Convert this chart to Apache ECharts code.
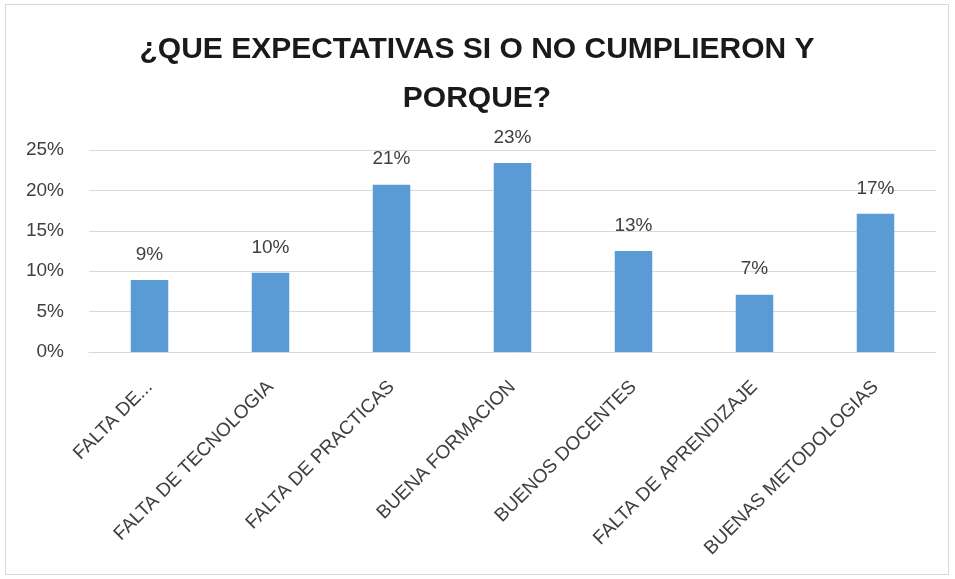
<!DOCTYPE html>
<html>
<head>
<meta charset="utf-8">
<script src="https://cdn.jsdelivr.net/npm/echarts@6/dist/echarts.min.js"></script>
<style>
    html, body { margin: 0; padding: 0; background: #fff; }
    #chart { position: absolute; left: 5px; top: 4px; width: 944px; height: 571px; border: 1px solid #d9d9d9; box-sizing: border-box; }
</style>
</head>
<body>
<div id="chart"></div>
<script>
// datos
var categorias = ['FALTA DE...', 'FALTA DE TECNOLOGIA', 'FALTA DE PRACTICAS', 'BUENA FORMACION', 'BUENOS DOCENTES', 'FALTA DE APRENDIZAJE', 'BUENAS METODOLOGIAS']
var porcentajes = [8.9, 9.8, 20.7, 23.4, 12.5, 7.1, 17.1]
var ticksY = [0, 5, 10, 15, 20, 25]

var textColor = '#404040'
var myChart = echarts.init(document.getElementById('chart'))
myChart.setOption({
    animation: false,
    title: {
        text: '¿QUE EXPECTATIVAS SI O NO CUMPLIERON Y\nPORQUE?',
        left: 'center',
        top: 15,
        textStyle: {
            fontFamily: 'Liberation Sans',
            fontWeight: 'bold',
            fontSize: 30,
            lineHeight: 49,
            color: '#1a1a1a'
        }
    },
    grid: {
        left: 83,
        right: 12,
        top: 145,
        bottom: 222,
        containLabel: false
    },
    xAxis: {
        type: 'category',
        data: categorias,
        axisTick: { show: false },
        axisLine: { lineStyle: { color: '#d9d9d9', width: 1 } },
        axisLabel: {
            rotate: 45,
            interval: 0,
            margin: 32,
            fontFamily: 'Liberation Sans',
            fontSize: 19,
            color: textColor
        }
    },
    yAxis: {
        type: 'value',
        min: ticksY[0],
        max: ticksY[ticksY.length - 1],
        interval: 5,
        axisLine: { show: false },
        axisTick: { show: false },
        splitLine: { lineStyle: { color: '#d9d9d9', width: 1 } },
        axisLabel: {
            margin: 25,
            fontFamily: 'Liberation Sans',
            fontSize: 19,
            color: textColor,
            formatter: function (v) { return v + '%' }
        }
    },
    series: [{
        type: 'bar',
        data: porcentajes,
        barWidth: '31%',
        itemStyle: { color: '#5b9bd5' },
        label: {
            show: true,
            position: 'top',
            distance: 16,
            fontFamily: 'Liberation Sans',
            fontSize: 19,
            color: textColor,
            formatter: function (p) { return Math.round(p.value) + '%' }
        }
    }]
})
</script>
</body>
</html>
